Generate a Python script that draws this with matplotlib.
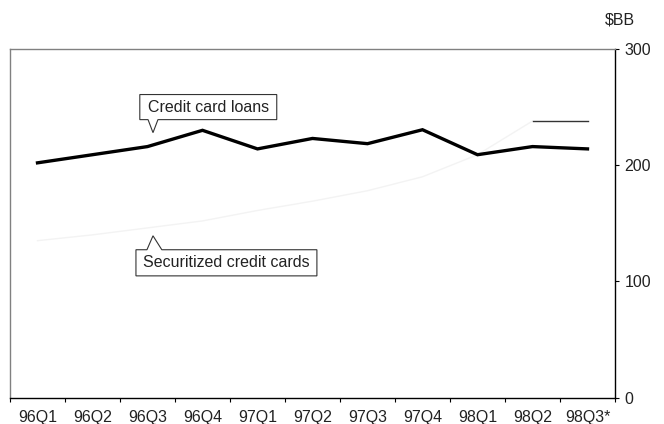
import matplotlib
matplotlib.use("Agg")
import matplotlib.pyplot as plt
from matplotlib.patches import Polygon

plt.rcParams['font.family'] = ['Liberation Sans', 'DejaVu Sans']

quarters = ['96Q1', '96Q2', '96Q3', '96Q4', '97Q1', '97Q2', '97Q3',
            '97Q4', '98Q1', '98Q2', '98Q3*']
credit_card_loans = [202, 209, 216, 230, 214, 223, 218.5, 230.5, 209, 216, 214]
securitized = [135, 140, 146, 152, 161, 169, 178, 190, 209, 238, 238]

fig = plt.figure(figsize=(6.64, 4.24), dpi=100)
ax = fig.add_axes([10/664, 26.5/424, 605/664, 348.5/424])
x = list(range(len(quarters)))

# faint securitized line, last segment drawn darker as in the original
ax.plot(x[:-1], securitized[:-1], color='#f3f3f3', lw=1)
ax.plot(x[-2:], securitized[-2:], color='#333333', lw=1)
ax.plot(x, credit_card_loans, color='black', lw=2.4, solid_joinstyle='miter')

ax.set_xlim(-0.5, len(quarters) - 0.5)
ax.set_ylim(0, 300)

fs = 11.5
txt = '#222222'

# axes styling
ax.yaxis.tick_right()
ax.set_yticks([0, 100, 200, 300])
ax.tick_params(axis='y', direction='out', length=3, width=0.8, labelsize=fs,
               labelcolor=txt, pad=4)
ax.set_xticks(x)
ax.set_xticklabels(quarters)
ax.set_xticks([i - 0.5 for i in range(len(quarters) + 1)], minor=True)
ax.tick_params(axis='x', which='major', length=0, labelsize=fs, labelcolor=txt, pad=9)
ax.tick_params(axis='x', which='minor', direction='out', length=3, width=0.8)
ax.spines['top'].set_color('#808080')
ax.spines['left'].set_color('#808080')
ax.spines['right'].set_color('black')
ax.spines['bottom'].set_color('black')
for s in ax.spines.values():
    s.set_linewidth(1)

fig.text(605/664, 1 - 20/424, '$BB', fontsize=fs, color=txt, ha='left', va='center')


def callout(x0, x1, y0, y1, bx0, bx1, tip, text, up):
    # box with a small pointer, in data units
    if up:
        pts = [(x0, y0), (x1, y0), (x1, y1), (bx1, y1), tip, (bx0, y1), (x0, y1)]
    else:
        pts = [(x0, y0), (bx0, y0), tip, (bx1, y0), (x1, y0), (x1, y1), (x0, y1)]
    ax.add_patch(Polygon(pts, closed=True, facecolor='white',
                         edgecolor='#333333', lw=0.8, zorder=5))
    ax.text((x0 + x1) / 2, (y0 + y1) / 2, text, ha='center', va='center',
            fontsize=fs, color=txt, zorder=6)


callout(1.86, 4.35, 239.2, 260.8, 2.01, 2.19, (2.1, 228), 'Credit card loans', False)
callout(1.79, 5.08, 104.7, 127.2, 1.99, 2.26, (2.1, 139.2), 'Securitized credit cards', True)

fig.savefig('out.png', dpi=100)
